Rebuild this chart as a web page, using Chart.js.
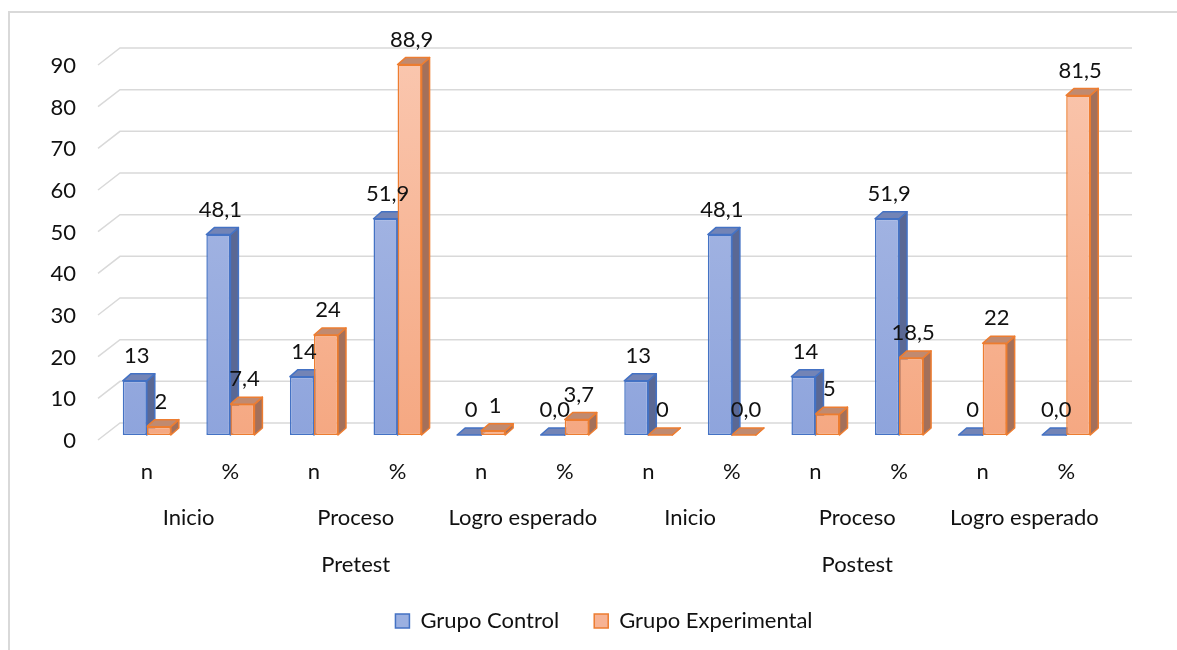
<!DOCTYPE html>
<html>
<head>
<meta charset="utf-8">
<script src="https://cdn.jsdelivr.net/npm/chart.js@4.4.1/dist/chart.umd.min.js"></script>
<style>
  body { margin: 0; background: #fff; overflow: hidden; }
  #frame { position: absolute; left: 8px; top: 11px; width: 1200px; height: 700px; border: 2px solid #d9d9d9; }
  #chart { position: absolute; left: 0; top: 0; }
</style>
</head>
<body>
<div id="frame"></div>
<canvas id="chart" width="1177" height="650"></canvas>
<script>
    const categories = ['n', '%', 'n', '%', 'n', '%', 'n', '%', 'n', '%', 'n', '%'];
    const levels = ['Inicio', 'Proceso', 'Logro esperado', 'Inicio', 'Proceso', 'Logro esperado'];
    const phases = ['Pretest', 'Postest'];
    const seriesNames = ['Grupo Control', 'Grupo Experimental'];
    const control = [13, 48.1, 14, 51.9, 0, 0.0, 13, 48.1, 14, 51.9, 0, 0.0];
    const experimental = [2, 7.4, 24, 88.9, 1, 3.7, 0, 0.0, 5, 18.5, 22, 81.5];
    const yMax = 90;
    const yStep = 10;

    const FONT = 'Lato';
    const FSIZE = 22;
    const TEXT = '#111111';
    const DX = 8, DY = 7;

    // colours of the faces: front (gradient), top, side, edge
    const faces = [
        { top: '#7384b6', side: '#5a6894', edge: '#4472C4', light: '#aebde6', dark: '#8ea4dc', legend: '#9bb0e1' },
        { top: '#c08a70', side: '#a4705a', edge: '#ED7D31', light: '#fac6ae', dark: '#f5a882', legend: '#f7b394' }
    ];

    function fmt(v, i) {
        if (categories[i] === '%') {
            return v.toFixed(1).replace('.', ',');
        }
        return String(Math.round(v));
    }

    function frontFill(di) {
        return function (context) {
            const chart = context.chart;
            const a = chart.chartArea;
            if (!a) {
                return faces[di].legend;
            }
            const g = chart.ctx.createLinearGradient(0, a.top, 0, a.bottom);
            g.addColorStop(0, faces[di].light);
            g.addColorStop(1, faces[di].dark);
            return g;
        };
    }

    const bars3d = {
        id: 'bars3d',
        afterLayout(chart) {
            // legend sits a bit right of the plot centre in the original
            chart.legend.left += 50;
            chart.legend.right += 50;
        },
        beforeDatasetsDraw(chart) {
            const ctx = chart.ctx;
            const ys = chart.scales.y;
            const a = chart.chartArea;
            ctx.save();
            // back wall grid lines with the slanted floor part
            ctx.strokeStyle = '#d9d9d9';
            ctx.lineWidth = 1.5;
            for (let v = 0; v <= yMax; v += yStep) {
                const yp = ys.getPixelForValue(v);
                ctx.beginPath();
                ctx.moveTo(a.left - 7, yp + 5);
                ctx.lineTo(a.left + 15, yp - 12);
                ctx.lineTo(a.right + 24, yp - 12);
                ctx.stroke();
            }
            // top and side faces of every bar
            chart.data.datasets.forEach((ds, di) => {
                const meta = chart.getDatasetMeta(di);
                meta.data.forEach(bar => {
                    const p = bar.getProps(['x', 'y', 'base', 'width'], true);
                    const l = p.x - p.width / 2;
                    const r = p.x + p.width / 2;
                    const top = Math.min(p.y, p.base);
                    ctx.strokeStyle = faces[di].edge;
                    ctx.lineWidth = 1.5;
                    ctx.lineJoin = 'round';
                    ctx.fillStyle = faces[di].side;
                    ctx.beginPath();
                    ctx.moveTo(r, top);
                    ctx.lineTo(r + DX, top - DY);
                    ctx.lineTo(r + DX, p.base - DY);
                    ctx.lineTo(r, p.base);
                    ctx.closePath();
                    ctx.fill();
                    ctx.stroke();
                    ctx.fillStyle = faces[di].top;
                    ctx.beginPath();
                    ctx.moveTo(l, top);
                    ctx.lineTo(l + DX, top - DY);
                    ctx.lineTo(r + DX, top - DY);
                    ctx.lineTo(r, top);
                    ctx.closePath();
                    ctx.fill();
                    ctx.stroke();
                });
            });
            ctx.restore();
        },
        afterDatasetsDraw(chart) {
            const ctx = chart.ctx;
            ctx.save();
            ctx.font = FSIZE + 'px ' + FONT;
            ctx.fillStyle = TEXT;
            ctx.textAlign = 'center';
            ctx.textBaseline = 'middle';
            chart.data.datasets.forEach((ds, di) => {
                const meta = chart.getDatasetMeta(di);
                meta.data.forEach((bar, i) => {
                    const p = bar.getProps(['x', 'y', 'base'], true);
                    const top = Math.min(p.y, p.base);
                    ctx.fillText(fmt(ds.data[i], i), p.x + 2, top - 25);
                });
            });
            ctx.restore();
        },
        afterDraw(chart) {
            const ctx = chart.ctx;
            const xs = chart.scales.x;
            ctx.save();
            ctx.font = FSIZE + 'px ' + FONT;
            ctx.fillStyle = TEXT;
            ctx.textAlign = 'center';
            ctx.textBaseline = 'middle';
            levels.forEach((t, k) => {
                const cx = (xs.getPixelForValue(2 * k) + xs.getPixelForValue(2 * k + 1)) / 2;
                ctx.fillText(t, cx, 518);
            });
            phases.forEach((t, k) => {
                const cx = (xs.getPixelForValue(6 * k) + xs.getPixelForValue(6 * k + 5)) / 2;
                ctx.fillText(t, cx, 565);
            });
            ctx.restore();
        }
    };

    new Chart(document.getElementById('chart'), {
        type: 'bar',
        data: {
            labels: categories,
            datasets: [{
                label: seriesNames[0],
                data: control,
                backgroundColor: frontFill(0),
                borderColor: faces[0].edge,
                borderWidth: 1.5,
                borderSkipped: false
            }, {
                label: seriesNames[1],
                data: experimental,
                backgroundColor: frontFill(1),
                borderColor: faces[1].edge,
                borderWidth: 1.5,
                borderSkipped: false
            }]
        },
        options: {
            responsive: false,
            animation: false,
            devicePixelRatio: 1,
            categoryPercentage: 0.575,
            barPercentage: 1,
            layout: {
                padding: { left: 0, right: 69, top: 60, bottom: 8 }
            },
            plugins: {
                legend: {
                    position: 'bottom',
                    labels: {
                        boxWidth: 14,
                        boxHeight: 14,
                        padding: 35,
                        color: TEXT,
                        font: { family: FONT, size: FSIZE },
                        generateLabels(chart) {
                            const items = Chart.defaults.plugins.legend.labels.generateLabels(chart);
                            items.forEach((it, i) => {
                                it.fillStyle = faces[i].legend;
                                it.strokeStyle = faces[i].edge;
                                it.lineWidth = 1.5;
                            });
                            return items;
                        }
                    }
                },
                tooltip: { enabled: false }
            },
            scales: {
                x: {
                    grid: { display: false, drawTicks: false },
                    border: { display: false },
                    ticks: {
                        color: TEXT,
                        font: { family: FONT, size: FSIZE },
                        padding: 24,
                        maxRotation: 0,
                        autoSkip: false
                    },
                    afterFit(scale) { scale.height = 140; }
                },
                y: {
                    min: 0,
                    max: yMax,
                    grid: { display: false, drawTicks: false },
                    border: { display: false },
                    ticks: {
                        stepSize: yStep,
                        color: TEXT,
                        font: { family: FONT, size: FSIZE },
                        padding: 29,
                        labelOffset: 6
                    },
                    afterFit(scale) { scale.width = 105; }
                }
            }
        },
        plugins: [bars3d]
    });
</script>
</body>
</html>
